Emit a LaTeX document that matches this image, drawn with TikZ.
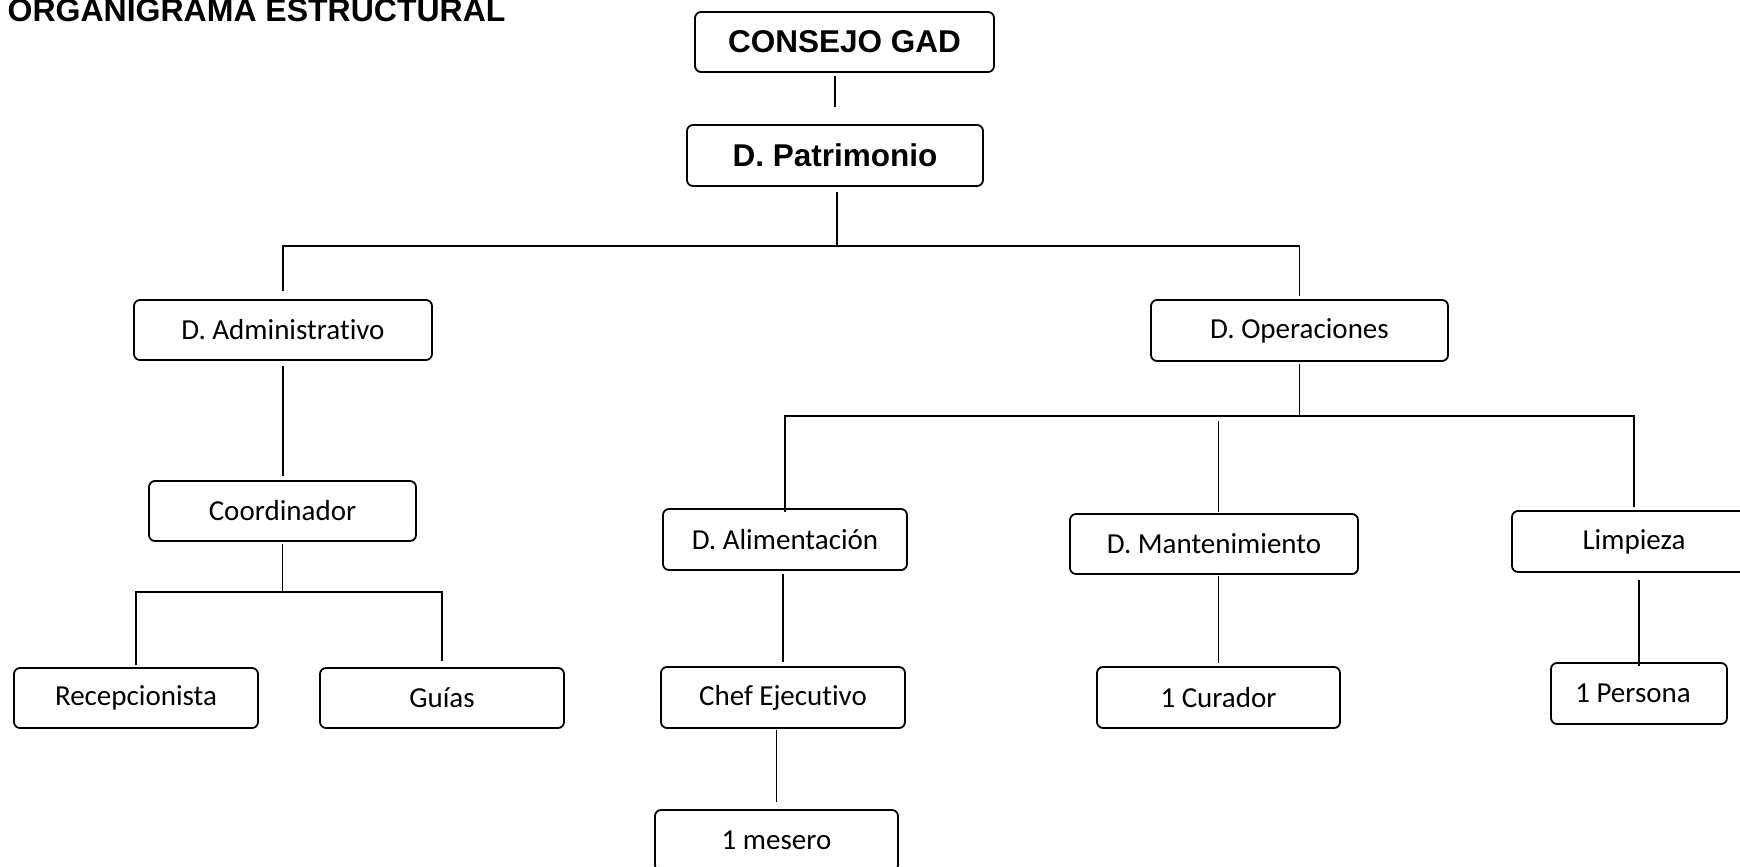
\documentclass[tikz,border=0pt]{standalone}
\usepackage{fontspec}
\setmainfont{Carlito}[Ligatures={NoCommon}]
\newfontfamily\headfont{Liberation Sans}
\usetikzlibrary{positioning, calc}
\tikzset{
  every picture/.style={x=1pt, y=-1pt, line width=1.5pt},
  box/.style={draw, rounded corners=6pt, line width=1.8pt, align=center, inner sep=0pt,
    minimum width=#1, minimum height=60pt, font=\fontsize{29}{33}\selectfont},
  box/.default=244pt,
  bigbox/.style={box=#1, font=\headfont\bfseries\fontsize{31.5}{36}\selectfont},
  link/.style={draw, line width=1.5pt},
  title/.style={font=\headfont\bfseries\fontsize{32}{36}\selectfont, inner sep=0pt},
}
\begin{document}
\begin{tikzpicture}
  \useasboundingbox (0,0) rectangle (1740,867);
  \node[title, anchor=base west] (title) at (7,22) {ORGANIGRAMA ESTRUCTURAL};
  % top of the chart
  \node[bigbox=299pt] (consejo) at (844.5,42) {CONSEJO GAD};
  \node[bigbox=296pt, minimum height=61pt] (patrimonio) at (835,155.5) {D. Patrimonio};
  % departments
  \node[box=298pt] (admin) at (283,330) {D. Administrativo};
  \node[box=297pt, minimum height=61pt] (operaciones) at (1299.5,330.5) {D. Operaciones};
  \node[box=267pt] (coordinador) at (282.5,511) {Coordinador};
  \node[box, minimum height=61pt] (alimentacion) at (785,539.5) {D. Alimentación};
  \node[box=288pt] (mantenimiento) at (1214,544) {D. Mantenimiento};
  \node[box, minimum height=61pt] (limpieza) at (1634,541.5) {Limpieza};
  % staff
  \node[box] (recepcionista) at (136,698) {Recepcionista};
  \node[box] (guias) at (442,698) {Guías};
  \node[box, minimum height=61pt] (chef) at (783,697.5) {Chef Ejecutivo};
  \node[box=243pt, minimum height=61pt] (curador) at (1218.5,697.5) {1 Curador};
  \node[box=176pt, minimum height=61pt] (persona) at (1639,693.5) {\hspace*{-12pt}1 Persona};
  \node[box=243pt, minimum height=61pt] (mesero) at (776.5,840.5) {1 mesero};
  % bus lines
  \coordinate (busA) at (837,246);
  \coordinate (busB) at (287,592);
  \coordinate (busC) at (1298,416);
  \draw[link] ([yshift=-3pt]consejo.south -| patrimonio.north) -- ([yshift=17pt]patrimonio.north);
  \draw[link] ([yshift=-5pt]patrimonio.south -| busA) -- (busA);
  \draw[link] ([yshift=8pt]admin.north) -- (admin |- busA) -- (operaciones |- busA) -- ([yshift=3pt]operaciones.north);
  \draw[link] ([yshift=-5pt]admin.south) -- ([yshift=4pt]coordinador.north -| admin.south);
  \draw[link] ([yshift=-2pt]coordinador.south) -- (coordinador |- busB);
  \draw[link] ([yshift=2pt]recepcionista.north) -- (recepcionista |- busB) -- (guias |- busB) -- ([yshift=6pt]guias.north);
  \draw[link] ([yshift=-2pt]operaciones.south) -- (operaciones |- busC);
  \draw[link] ([yshift=-4pt]alimentacion.north) -- (alimentacion |- busC) -- (limpieza |- busC) -- ([yshift=3pt]limpieza.north);
  \draw[link] ([yshift=-5pt]busC -| curador) -- ([yshift=1pt]mantenimiento.north -| curador);
  \draw[link] ([yshift=-3pt]alimentacion.south -| chef.north) -- ([yshift=4pt]chef.north);
  \draw[link] ([yshift=-1pt]chef.south -| mesero.north) -- ([yshift=7pt]mesero.north);
  \draw[link] ([yshift=-1pt]mantenimiento.south -| curador.north) -- ([yshift=3pt]curador.north);
  \draw[link] ([yshift=-7pt]limpieza.south -| persona.north) -- ([yshift=-4pt]persona.north);
\end{tikzpicture}
\end{document}
